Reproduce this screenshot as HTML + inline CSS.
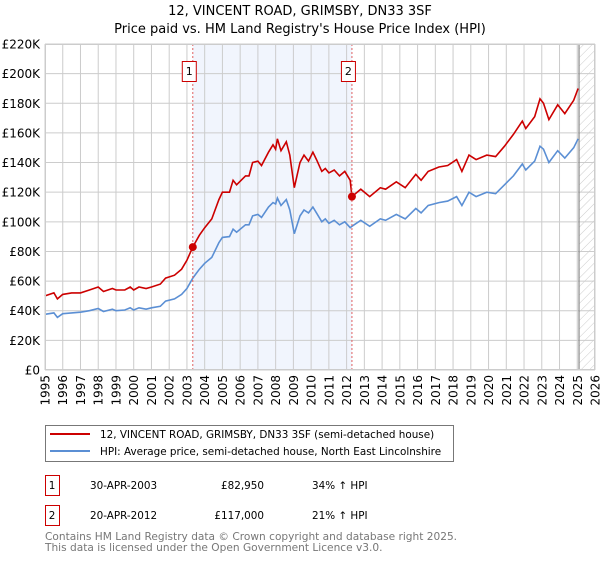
<!DOCTYPE html>
<html><head><meta charset="utf-8"><style>
body{margin:0;background:#fff;font-family:"Liberation Sans","DejaVu Sans",sans-serif;}
svg text{font-family:"DejaVu Sans","Liberation Sans",sans-serif;}
</style></head><body>
<svg id="chart" width="600" height="560" xmlns="http://www.w3.org/2000/svg">
<defs><pattern id="hatch" width="6" height="6" patternUnits="userSpaceOnUse" patternTransform="rotate(45)"><line x1="0" y1="0" x2="0" y2="6" stroke="#ccc" stroke-width="1"/></pattern></defs>
<text x="300" y="15" text-anchor="middle" font-size="13">12, VINCENT ROAD, GRIMSBY, DN33 3SF</text>
<text x="300" y="33" text-anchor="middle" font-size="13">Price paid vs. HM Land Registry's House Price Index (HPI)</text>
<g id="plot"></g>
<rect x="45.5" y="425.5" width="408" height="36" fill="#fff" stroke="#777"/>
<line x1="50" y1="434" x2="90" y2="434" stroke="#cc0000" stroke-width="2"/>
<text x="100" y="438" font-size="10.4">12, VINCENT ROAD, GRIMSBY, DN33 3SF (semi-detached house)</text>
<line x1="50" y1="451" x2="90" y2="451" stroke="#5b8fd4" stroke-width="2"/>
<text x="100" y="455" font-size="10.4">HPI: Average price, semi-detached house, North East Lincolnshire</text>
<g font-size="10.4">
<rect x="45.5" y="475.5" width="14" height="20" fill="none" stroke="#cc0000"/><text x="52" y="489" text-anchor="middle">1</text>
<text x="90" y="489">30-APR-2003</text><text x="264" y="489" text-anchor="end">£82,950</text><text x="312" y="489">34% ↑ HPI</text></g>
<g font-size="10.4">
<rect x="45.5" y="505.5" width="14" height="20" fill="none" stroke="#cc0000"/><text x="52" y="519" text-anchor="middle">2</text>
<text x="90" y="519">20-APR-2012</text><text x="264" y="519" text-anchor="end">£117,000</text><text x="312" y="519">21% ↑ HPI</text></g>
<text x="45" y="540" font-size="10.6" fill="#777">Contains HM Land Registry data © Crown copyright and database right 2025.</text>
<text x="45" y="551" font-size="10.6" fill="#777">This data is licensed under the Open Government Licence v3.0.</text>
</svg>
<script>
const years=[1995.0,1995.5,1995.7,1996.0,1996.5,1997.0,1997.5,1998.0,1998.3,1998.8,1999.0,1999.5,1999.8,2000.0,2000.3,2000.7,2001.0,2001.5,2001.8,2002.3,2002.7,2003.0,2003.33,2003.7,2004.0,2004.4,2004.8,2005.0,2005.4,2005.6,2005.8,2006.3,2006.5,2006.7,2007.0,2007.2,2007.6,2007.85,2008.0,2008.1,2008.3,2008.6,2008.8,2009.05,2009.37,2009.6,2009.85,2010.1,2010.3,2010.6,2010.8,2011.0,2011.3,2011.6,2011.9,2012.2,2012.3,2012.8,2013.3,2013.9,2014.2,2014.8,2015.3,2015.9,2016.2,2016.6,2017.2,2017.7,2018.2,2018.5,2018.9,2019.3,2019.9,2020.4,2020.9,2021.4,2021.9,2022.1,2022.6,2022.9,2023.1,2023.4,2023.9,2024.3,2024.8,2025.05];
const hpiValues=[37.6,38.5,35.5,38,38.5,39,40,41.5,39.5,41,40,40.5,42,40.5,42,41,42,43,46.5,48,51,55,62,68,72,76,86,89.5,90,95,93,98,98,104,105,103,110,113,112,116,111,115,108,92,104,108,106,110,106,100,102,99,101,98,100,96,97,101,97,102,101,105,102,109,106,111,113,114,117,111,120,117,120,119,125,131,139,135,141,151,149,140,148,143,150,156];
const propertyValues=[50,52,48,51,52,52,54,56,53,55,54,54,56,54,56,55,56,58,62,64,68,74,83,91,96,102,115,120,120,128,125,131,131,140,141,138,147,152,149,156,148,154,145,123,140,145,141,147,142,134,136,133,135,131,134,128,117,122,117,123,122,127,123,132,128,134,137,138,142,134,145,142,145,144,151,159,168,163,171,183,180,169,179,173,182,190];
const yTicks=[0,20,40,60,80,100,120,140,160,180,200,220];
const yTickLabels=["£0","£20K","£40K","£60K","£80K","£100K","£120K","£140K","£160K","£180K","£200K","£220K"];
const xTicks=[1995,1996,1997,1998,1999,2000,2001,2002,2003,2004,2005,2006,2007,2008,2009,2010,2011,2012,2013,2014,2015,2016,2017,2018,2019,2020,2021,2022,2023,2024,2025,2026];
const saleYears=[2003.33,2012.3];
const saleValues=[82.95,117];
const saleLabels=["1","2"];
const dataEnd=2025.1;
const X0=45,X1=595,Y0=370,Y1=44;
const xs=y=>X0+(y-1995)/31*(X1-X0);
const ys=v=>Y0-v/220*(Y0-Y1);
const NS="http://www.w3.org/2000/svg";
const g=document.getElementById('plot');
function mk(t,a){const e=document.createElementNS(NS,t);for(const k in a)e.setAttribute(k,a[k]);g.appendChild(e);return e;}
let r=mk('rect',{x:xs(saleYears[0]),y:Y1,width:xs(saleYears[1])-xs(saleYears[0]),height:Y0-Y1,fill:'#eef3fd',opacity:0.8});


r=mk('rect',{x:xs(dataEnd),y:Y1,width:X1-xs(dataEnd),height:Y0-Y1,fill:'url(#hatch)'});


yTicks.forEach((v,i)=>{
 const l=mk('line',{x1:X0,x2:X1,y1:ys(v),y2:ys(v),stroke:'#ccc','stroke-width':1});
 
 
 const t=mk('text',{x:40,y:ys(v)+4.5,'text-anchor':'end','font-size':12});
 
 
 t.textContent=yTickLabels[i];
});
xTicks.forEach(yr=>{
 const l=mk('line',{x1:xs(yr),x2:xs(yr),y1:Y1,y2:Y0,stroke:'#ccc','stroke-width':1});
 
 
 const t=mk('text',{x:0,y:0,'text-anchor':'end','font-size':12,transform:`translate(${xs(yr)+4.5},375) rotate(-90)`});
 
 
 t.textContent=yr;
});
let v=mk('line',{x1:xs(dataEnd),x2:xs(dataEnd),y1:Y1,y2:Y0,stroke:'#888','stroke-width':1.2});


const pts=a=>years.map((y,i)=>xs(y).toFixed(1)+','+ys(a[i]).toFixed(1)).join(' ');
let p=mk('polyline',{points:pts(hpiValues),fill:'none',stroke:'#5b8fd4','stroke-width':1.6});


p=mk('polyline',{points:pts(propertyValues),fill:'none',stroke:'#cc0000','stroke-width':1.6});


saleYears.forEach((yr,i)=>{
 const l=mk('line',{x1:xs(yr),x2:xs(yr),y1:Y1,y2:Y0,stroke:'#e06060','stroke-width':1,'stroke-dasharray':'2,2'});
 
 
 const c=mk('circle',{cx:xs(yr),cy:ys(saleValues[i]),r:4,fill:'#cc0000'});
 
 
 const b=mk('rect',{x:xs(yr)-10.5,y:61.5,width:14,height:20,fill:'#fff',stroke:'#cc0000'});
 
 
 const t=mk('text',{x:xs(yr)-3.5,y:75,'text-anchor':'middle','font-size':11});
 
 
 t.textContent=saleLabels[i];
});
let f=mk('rect',{x:X0+0.5,y:Y1+0.5,width:X1-X0-1,height:Y0-Y1-1,fill:'none',stroke:'#ccc'});


</script>
</body></html>
